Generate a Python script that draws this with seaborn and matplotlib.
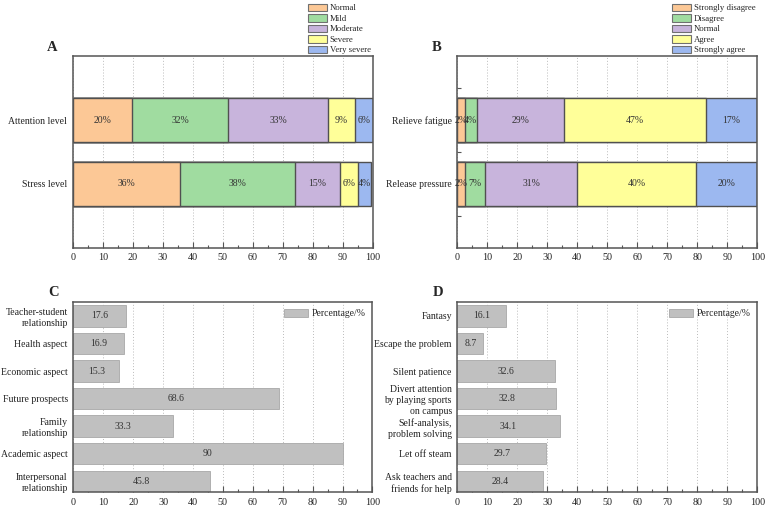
import matplotlib
matplotlib.use("Agg")
import matplotlib.pyplot as plt
from matplotlib.patches import Patch
from matplotlib.ticker import MultipleLocator, FixedLocator
import numpy as np
import seaborn as sns

# ---- data ----
a_groups = ["Attention level", "Stress level"]
a_levels = ["Normal", "Mild", "Moderate", "Severe", "Very severe"]
a_attention = [19.7, 32.2, 33.1, 9.1, 5.9]
a_stress = [35.9, 38.1, 15.2, 6.0, 4.4]

b_groups = ["Relieve fatigue", "Release pressure"]
b_levels = ["Strongly disagree", "Disagree", "Normal", "Agree", "Strongly agree"]
b_fatigue = [2.4, 4.1, 29.2, 47.1, 17.2]
b_pressure = [2.4, 6.9, 30.7, 39.6, 20.4]

c_labels = ["Teacher-student\nrelationship", "Health aspect", "Economic aspect",
            "Future prospects", "Family\nrelationship", "Academic aspect",
            "Interpersonal\nrelationship"]
c_values = [17.6, 16.9, 15.3, 68.6, 33.3, 90, 45.8]

d_labels = ["Fantasy", "Escape the problem", "Silent patience",
            "Divert attention\nby playing sports\non campus",
            "Self-analysis,\nproblem solving", "Let off steam",
            "Ask teachers and\nfriends for help"]
d_values = [16.1, 8.7, 32.6, 32.8, 34.1, 29.7, 28.4]

colors5 = ["#FCC896", "#A0DCA0", "#C8B4DC", "#FFFF99", "#9CB8F0"]
grey = "#C0C0C0"

sns.set_theme(style="ticks")
plt.rcParams["font.family"] = ["Liberation Serif", "DejaVu Serif"]
plt.rcParams["axes.edgecolor"] = "#555555"
plt.rcParams["axes.linewidth"] = 1.1
plt.rcParams["xtick.direction"] = "in"
plt.rcParams["ytick.direction"] = "in"
plt.rcParams["xtick.color"] = "#555555"
plt.rcParams["ytick.color"] = "#555555"
plt.rcParams["xtick.labelcolor"] = "#222222"
plt.rcParams["ytick.labelcolor"] = "#222222"

fs = 7.0

fig = plt.figure(figsize=(7.67, 5.11), dpi=100)
axA = fig.add_axes([0.0948, 0.515, 0.391, 0.375])
axB = fig.add_axes([0.5963, 0.515, 0.391, 0.375])
axC = fig.add_axes([0.0956, 0.0366, 0.390, 0.372])
axD = fig.add_axes([0.5963, 0.0366, 0.391, 0.372])


def style_x(ax):
    ax.set_xlim(0, 100)
    ax.xaxis.set_major_locator(MultipleLocator(10))
    ax.xaxis.set_minor_locator(MultipleLocator(5))
    ax.tick_params(axis="x", which="major", length=4, width=0.8, labelsize=7.3, pad=4)
    ax.tick_params(axis="x", which="minor", length=2, width=0.8)
    ax.tick_params(axis="y", which="major", length=3, width=0.8, labelsize=fs, pad=4)
    ax.tick_params(axis="y", which="minor", length=3, width=0.8)
    ax.grid(axis="x", which="major", linestyle=(0, (1, 2)), color="#BBBBBB", lw=0.7)
    ax.grid(axis="y", visible=False)
    ax.set_axisbelow(True)
    ax.set_xlabel("")
    ax.set_ylabel("")
    for lbl in ax.get_yticklabels():
        lbl.set_linespacing(1.3)
    for s in ax.spines.values():
        s.set_visible(True)


def stacked(ax, groups, rows, levels, letter):
    rows = np.array(rows)
    cum = np.cumsum(rows, axis=1)
    # draw widest first so shorter segments sit on top
    for j in range(len(levels) - 1, -1, -1):
        sns.barplot(x=cum[:, j], y=groups, color=colors5[j], orient="h",
                    width=0.7, edgecolor="#505050", linewidth=1.0,
                    saturation=1, ax=ax)
    for i in range(len(groups)):
        for j in range(len(levels)):
            c = cum[i, j] - rows[i, j] / 2
            ax.text(c, i, f"{rows[i, j]:.0f}%", ha="center", va="center",
                    fontsize=fs, color="#333333")
    ax.set_ylim(2, -1)
    style_x(ax)
    handles = [Patch(facecolor=colors5[j], edgecolor="#707070", lw=0.8)
               for j in range(len(levels))]
    ax.legend(handles, levels, loc="lower right", bbox_to_anchor=(1.0, 1.0),
              frameon=False, fontsize=6.3, borderaxespad=0.1, borderpad=0.1,
              labelspacing=0.2, handlelength=2.2, handleheight=0.95,
              handletextpad=0.3)
    ax.text(-0.068, 1.01, letter, transform=ax.transAxes, fontsize=10.5,
            fontweight="bold", ha="center", va="bottom")


def simple(ax, labels, values, letter):
    sns.barplot(x=values, y=labels, color=grey, orient="h", width=0.78,
                edgecolor="#A8A8A8", linewidth=0.6, saturation=1,
                label="Percentage/%", ax=ax)
    ax.bar_label(ax.containers[0], fmt="%g", label_type="center",
                 fontsize=fs, color="#333333")
    ax.set_ylim(6.4, -0.5)
    style_x(ax)
    ax.legend(loc="upper right", frameon=False, fontsize=fs, borderaxespad=0.3,
              handlelength=2.4, handleheight=0.9, handletextpad=0.4)
    ax.text(-0.065, 1.015, letter, transform=ax.transAxes, fontsize=10.5,
            fontweight="bold", ha="center", va="bottom")


stacked(axA, a_groups, [a_attention, a_stress], a_levels, "A")
stacked(axB, b_groups, [b_fatigue, b_pressure], b_levels, "B")
axB.yaxis.set_minor_locator(FixedLocator([-0.5, 0.5, 1.5]))
simple(axC, c_labels, c_values, "C")
simple(axD, d_labels, d_values, "D")

fig.savefig("out.png", dpi=100, facecolor="white")
